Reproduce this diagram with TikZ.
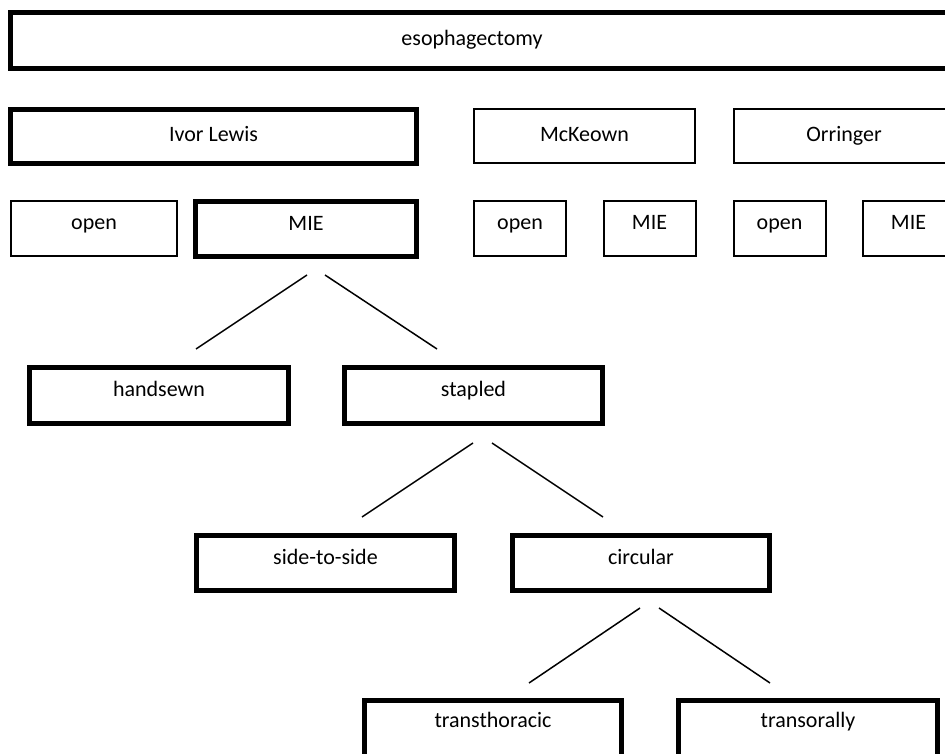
\documentclass[tikz,border=0pt]{standalone}
\usepackage{fontspec}
\setmainfont{Carlito}
\begin{document}
\begin{tikzpicture}[x=1pt,y=-1pt,
  boxbase/.style={draw=black, rectangle, inner sep=0pt, text height=14pt, text depth=12pt,
    font=\fontsize{22}{26}\selectfont, align=center},
  thickbox/.style={boxbase, line width=5pt},
  thinbox/.style={boxbase, line width=2pt},
  lowtext/.style={text depth=3pt},
  link/.style={draw=black, line width=1.5pt}]
\useasboundingbox (0,0) rectangle (945,754);
\fill[white] (0,0) rectangle (945,754);
\clip (0,0) rectangle (945,754);

% top
\node[thickbox, lowtext, minimum width=939pt, minimum height=56pt] (esoph) at (480,40.5) {\hspace*{-16pt}esophagectomy};

% second row
\node[thickbox, lowtext, minimum width=406pt, minimum height=54pt] (ivor) at (213.5,136.5) {Ivor Lewis};
\node[thinbox, lowtext, minimum width=221pt, minimum height=54pt] (mckeown) at (584.5,136) {McKeown};
\node[thinbox, lowtext, minimum width=220pt, minimum height=54pt] (orringer) at (844,136) {Orringer};

% third row
\node[thinbox, minimum width=166pt, minimum height=55pt] (ilopen) at (94,228.5) {open};
\node[thickbox, minimum width=221pt, minimum height=55pt] (ilmie) at (306,229) {MIE};
\node[thinbox, minimum width=92pt, minimum height=55pt] (mkopen) at (520,228.5) {open};
\node[thinbox, minimum width=92pt, minimum height=55pt] (mkmie) at (649.5,228.5) {MIE};
\node[thinbox, minimum width=92pt, minimum height=55pt] (oropen) at (779.5,228.5) {open};
\node[thinbox, minimum width=92pt, minimum height=55pt] (ormie) at (908.5,228.5) {MIE};

% fourth row
\node[thickbox, minimum width=259pt, minimum height=56pt] (handsewn) at (159,395.5) {handsewn};
\node[thickbox, minimum width=258pt, minimum height=56pt] (stapled) at (473.5,395.5) {stapled};

% fifth row
\node[thickbox, minimum width=258pt, minimum height=55pt] (side) at (325.5,563) {side-to-side};
\node[thickbox, minimum width=257pt, minimum height=55pt] (circular) at (641,563) {circular};

% sixth row
\node[thickbox, text depth=18pt, minimum width=257pt, minimum height=57pt] (transth) at (493,729) {transthoracic};
\node[thickbox, text depth=18pt, minimum width=259pt, minimum height=57pt] (transor) at (808,729) {transorally};

% connector end points
\coordinate (m1) at (307,275);
\coordinate (m2) at (325,275);
\coordinate (h1) at (196,349);
\coordinate (s1) at (437,349);
\coordinate (st1) at (473,443);
\coordinate (st2) at (492,443);
\coordinate (sd1) at (362,517);
\coordinate (c1) at (603,517);
\coordinate (ci1) at (640,608);
\coordinate (ci2) at (659,608);
\coordinate (tt1) at (529,683);
\coordinate (to1) at (770,683);

\draw[link] (m1) -- (h1);
\draw[link] (m2) -- (s1);
\draw[link] (st1) -- (sd1);
\draw[link] (st2) -- (c1);
\draw[link] (ci1) -- (tt1);
\draw[link] (ci2) -- (to1);
\end{tikzpicture}
\end{document}
